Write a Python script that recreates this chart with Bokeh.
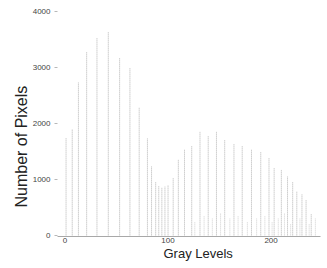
from bokeh.plotting import figure
from bokeh.models import FixedTicker, Range1d, Title
from bokeh.embed import file_html
from bokeh.resources import INLINE

# Histogram spikes (gray level, pixel count)
gray_levels = [1, 7, 13, 21, 31, 42, 53, 63, 72, 80, 84, 88, 91, 94, 97, 100,
               105, 110, 116, 123, 131, 139, 147, 155, 164, 172, 181, 190, 198,
               203, 210, 216, 221, 225, 230, 234, 239]
pixel_counts = [1750, 1900, 2730, 3270, 3520, 3640, 3180, 3000, 2290, 1730, 1230,
                950, 880, 860, 870, 900, 1030, 1360, 1540, 1600, 1860, 1770, 1860,
                1710, 1640, 1590, 1540, 1500, 1390, 1210, 1180, 1050, 960, 790,
                730, 640, 375]

# faint low spikes between the main ones
minor_levels = [126, 135, 143, 151, 160, 168, 177, 186, 194, 201, 207, 213, 219,
                228, 237, 243]
minor_counts = [250, 350, 300, 400, 300, 350, 250, 300, 350, 250, 300, 400, 200,
                300, 200, 300]

y_ticks = [0, 1000, 2000, 3000, 4000]
x_ticks = [0, 100, 200]

p = figure(width=327, height=268, output_backend="svg", toolbar_location=None,
           x_range=Range1d(-7.3, 248), y_range=Range1d(-20, 4000),
           min_border_left=57, min_border_right=7, min_border_top=11,
           min_border_bottom=32)
p.outline_line_color = None
p.grid.grid_line_color = None
p.background_fill_color = "white"

zeros = [0] * len(gray_levels)
p.segment(x0=gray_levels, y0=zeros, x1=gray_levels, y1=pixel_counts,
          line_color="#b2b2b2", line_width=1, line_dash="1 1")
p.segment(x0=minor_levels, y0=[0] * len(minor_levels), x1=minor_levels, y1=minor_counts,
          line_color="#cfcfcf", line_width=1, line_dash="1 1")

font = "Liberation Sans"
p.yaxis.ticker = FixedTicker(ticks=y_ticks)
p.xaxis.ticker = FixedTicker(ticks=x_ticks)
p.yaxis.minor_tick_line_color = None
p.xaxis.minor_tick_line_color = None
p.yaxis.axis_line_color = None
p.xaxis.axis_line_color = "#a8a8a8"
p.yaxis.major_tick_line_color = "#b8b8b8"
p.xaxis.major_tick_line_color = None
p.yaxis.major_tick_out = 3
p.yaxis.major_tick_in = 0
p.xaxis.major_tick_out = 0
p.xaxis.major_tick_in = 0
for ax in (p.xaxis, p.yaxis):
    ax.major_label_text_font = font
    ax.major_label_text_font_size = "8px"
    ax.major_label_text_color = "#444444"
p.yaxis.major_label_standoff = 4
p.xaxis.major_label_standoff = 1

xt = Title(text="Gray Levels", align="left", offset=106, standoff=-3,
           text_font=font, text_font_size="13px", text_font_style="normal",
           text_color="#222222")
p.add_layout(xt, "below")
yt = Title(text="Number of Pixels", align="left", offset=29, standoff=0,
           text_font=font, text_font_size="16px", text_font_style="normal",
           text_color="#222222")
p.add_layout(yt, "left")

open("out.html", "w").write(file_html(p, INLINE))
